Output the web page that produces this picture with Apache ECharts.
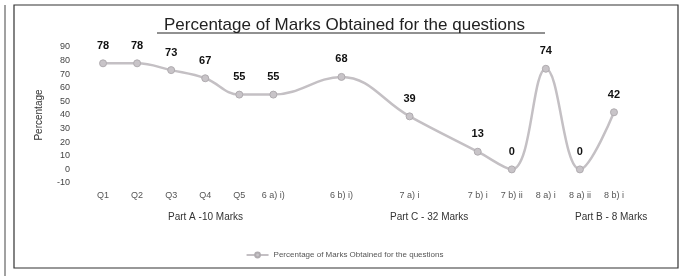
<!DOCTYPE html>
<html lang="en">
<head>
    <meta charset="UTF-8">
    <title>Percentage of Marks</title>
    <script src="https://cdn.jsdelivr.net/npm/echarts@6/dist/echarts.min.js"></script>
</head>
<body style="margin:0;background:#fff;">
<div id="main" style="width: 689px;height:276px;"></div>
<script>
    // question labels (blank slots are the gaps Excel left between questions)
    var questions = ['Q1', 'Q2', 'Q3', 'Q4', 'Q5', '6 a) i)', '', '6 b) i)', '', '7 a) i', '', '7 b) i', '7 b) ii', '8 a) i', '8 a) ii', '8 b) i'];
    var percent = [78, 78, 73, 67, 55, 55, null, 68, null, 39, null, 13, 0, 74, 0, 42];
    var parts = ['Part A -10 Marks', 'Part C - 32 Marks', 'Part B - 8 Marks'];
    var yTicks = {min: -10, max: 90, interval: 10};
    var seriesName = 'Percentage of Marks Obtained for the questions';

    var myChart = echarts.init(document.getElementById('main'));

    var partX = [168, 390, 575];
    var partText = parts.map(function (p, i) {
        return {
            type: 'text', left: partX[i], top: 212,
            style: {text: p, fill: '#333', font: '10px "Liberation Sans"', textAlign: 'center'}
        };
    });

    var option = {
        backgroundColor: '#fff',
        textStyle: {fontFamily: 'Liberation Sans'},
        title: {
            text: seriesName,
            left: 'center',
            top: 12,
            textStyle: {fontSize: 17, fontWeight: 'normal', color: '#222', fontFamily: 'Liberation Sans'}
        },
        grid: {left: 86, right: 58, top: 47, bottom: 93},
        legend: {
            bottom: 12,
            left: 'center',
            itemWidth: 22,
            itemHeight: 6,
            textStyle: {fontSize: 8, color: '#555'},
            data: [seriesName]
        },
        xAxis: {
            type: 'category',
            data: questions,
            boundaryGap: true,
            axisLine: {show: false},
            axisTick: {show: false},
            axisLabel: {interval: 0, color: '#555', fontSize: 9, margin: 8}
        },
        yAxis: {
            type: 'value',
            min: yTicks.min,
            max: yTicks.max,
            interval: yTicks.interval,
            name: 'Percentage',
            nameLocation: 'middle',
            nameGap: 42,
            nameTextStyle: {color: '#333', fontSize: 10},
            axisLine: {show: false},
            axisTick: {show: false},
            splitLine: {show: false},
            axisLabel: {color: '#444', fontSize: 9, margin: 16}
        },
        graphic: [
            {type: 'rect', shape: {x: 14, y: 5, width: 664, height: 263}, style: {fill: 'none', stroke: '#333', lineWidth: 1.2}},
            {type: 'line', shape: {x1: 5, y1: 5, x2: 5, y2: 276}, style: {stroke: '#444', lineWidth: 1}},
            {type: 'line', shape: {x1: 157, y1: 33, x2: 545, y2: 33}, style: {stroke: '#222', lineWidth: 1}}
        ].concat(partText),
        series: [{
            name: seriesName,
            type: 'line',
            data: percent,
            connectNulls: true,
            smooth: 0.4,
            symbol: 'circle',
            symbolSize: 7,
            lineStyle: {color: '#c4c0c4', width: 2.5},
            itemStyle: {color: '#c8c4c8', borderColor: '#b0acb0', borderWidth: 1},
            label: {show: true, position: 'top', distance: 8, color: '#111', fontSize: 11, fontWeight: 'bold'}
        }]
    };

    myChart.setOption(option);
</script>
</body>
</html>
